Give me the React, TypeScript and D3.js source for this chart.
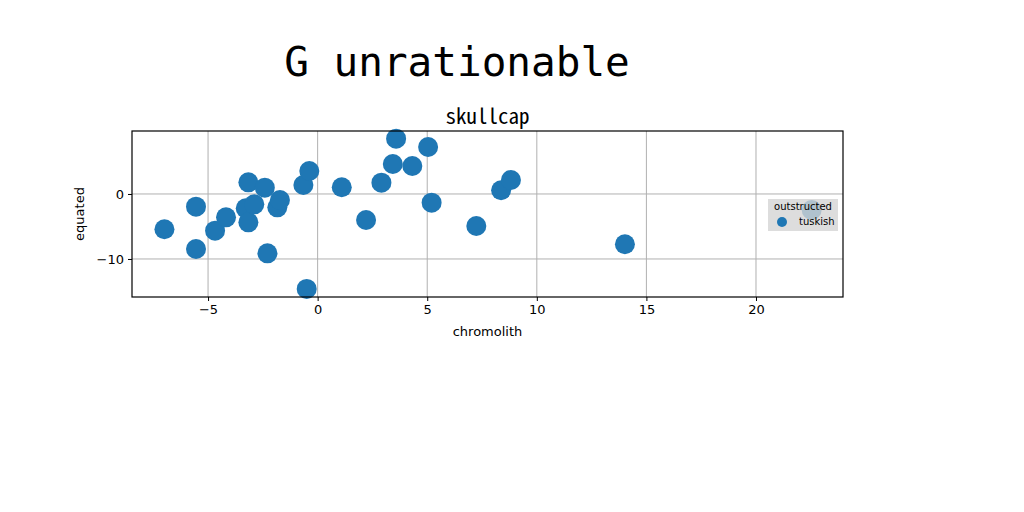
import React, { useRef, useEffect } from 'react';
import * as d3 from 'd3';

// scatter values
const xValues = [
  -6.99, -5.55, -5.55, -4.68, -4.18, -3.16, -3.28, -3.16, -2.89, -2.41,
  -2.29, -1.84, -1.72, -0.65, -0.38, -0.5, 1.1, 2.21, 2.91, 3.43,
  3.58, 4.32, 5.04, 5.2, 7.24, 8.37, 8.82, 14.02, 22.54,
];
const yValues = [
  -5.43, -1.95, -8.46, -5.64, -3.59, 1.79, -2.21, -4.36, -1.59, 0.97,
  -9.13, -2.05, -0.92, 1.38, 3.54, -14.6, 1.03, -4.0, 1.74, 4.62,
  8.51, 4.31, 7.23, -1.34, -4.92, 0.57, 2.15, -7.74, -2.46,
];
const xTicks = [-5, 0, 5, 10, 15, 20];
const yTicks = [-10, 0];
const seriesName = 'tuskish';
const legendTitle = 'outstructed';

const App: React.FC = () => {
  const svgRef = useRef<SVGSVGElement>(null);

  useEffect(() => {
    if (!svgRef.current) return;
    const svg = d3.select(svgRef.current);
    svg.selectAll('*').remove();

    const plot = { left: 132, right: 843, top: 131, bottom: 297 };
    const xScale = d3.scaleLinear().domain([-8.47, 23.97]).range([plot.left, plot.right]);
    const yScale = d3.scaleLinear().domain([-15.85, 9.69]).range([plot.bottom, plot.top]);

    svg.append('rect').attr('width', 1024).attr('height', 512).attr('fill', '#ffffff');

    // main title
    svg.append('text')
      .attr('x', 457)
      .attr('y', 76)
      .attr('text-anchor', 'middle')
      .style('font-family', '"DejaVu Sans Mono", monospace')
      .style('font-size', '41px')
      .style('fill', '#000')
      .text('G unrationable');

    // axes title
    svg.append('text')
      .attr('x', (plot.left + plot.right) / 2)
      .attr('y', 124)
      .attr('text-anchor', 'middle')
      .style('font-family', '"Noto Sans Mono CJK JP", "Noto Sans CJK JP", sans-serif')
      .style('font-size', '21px')
      .style('fill', '#000')
      .text('skullcap');

    // grid
    const grid = svg.append('g');
    grid.selectAll('.gx')
      .data(xTicks)
      .enter().append('line')
      .attr('x1', d => xScale(d)).attr('x2', d => xScale(d))
      .attr('y1', plot.top).attr('y2', plot.bottom)
      .attr('stroke', '#b0b0b0').attr('stroke-width', 1);
    grid.selectAll('.gy')
      .data(yTicks)
      .enter().append('line')
      .attr('y1', d => yScale(d)).attr('y2', d => yScale(d))
      .attr('x1', plot.left).attr('x2', plot.right)
      .attr('stroke', '#b0b0b0').attr('stroke-width', 1);

    // points
    svg.append('g')
      .selectAll('circle')
      .data(xValues.map((x, i) => ({ x, y: yValues[i] })))
      .enter().append('circle')
      .attr('cx', d => xScale(d.x))
      .attr('cy', d => yScale(d.y))
      .attr('r', 10)
      .attr('fill', '#1f77b4');

    // axes
    const xAxis = svg.append('g')
      .attr('transform', `translate(0,${plot.bottom})`)
      .call(d3.axisBottom(xScale).tickValues(xTicks).tickSizeOuter(0).tickSize(4).tickPadding(4)
        .tickFormat(d => d3.format('d')(d as number).replace('-', '\u2212')));
    const yAxis = svg.append('g')
      .attr('transform', `translate(${plot.left},0)`)
      .call(d3.axisLeft(yScale).tickValues(yTicks).tickSizeOuter(0).tickSize(4).tickPadding(4)
        .tickFormat(d => d3.format('d')(d as number).replace('-', '\u2212')));
    [xAxis, yAxis].forEach(a => {
      a.select('.domain').remove();
      a.selectAll('text')
        .style('font-family', '"DejaVu Sans", sans-serif')
        .style('font-size', '13px')
        .style('fill', '#000');
      a.selectAll('line').attr('stroke', '#000');
    });

    // frame
    svg.append('rect')
      .attr('x', plot.left).attr('y', plot.top)
      .attr('width', plot.right - plot.left).attr('height', plot.bottom - plot.top)
      .attr('fill', 'none').attr('stroke', '#000').attr('stroke-width', 1.2);

    // axis labels
    svg.append('text')
      .attr('x', (plot.left + plot.right) / 2)
      .attr('y', 336)
      .attr('text-anchor', 'middle')
      .style('font-family', '"DejaVu Sans", sans-serif')
      .style('font-size', '13px')
      .text('chromolith');
    svg.append('text')
      .attr('transform', `translate(84,${(plot.top + plot.bottom) / 2}) rotate(-90)`)
      .attr('text-anchor', 'middle')
      .style('font-family', '"DejaVu Sans", sans-serif')
      .style('font-size', '13px')
      .text('equated');

    // legend
    const legend = svg.append('g').attr('transform', 'translate(768,199)');
    legend.append('rect')
      .attr('width', 70).attr('height', 32)
      .attr('fill', '#d4d4d4').attr('opacity', 0.8);
    legend.append('text')
      .attr('x', 35).attr('y', 11)
      .attr('text-anchor', 'middle')
      .style('font-family', '"DejaVu Sans", sans-serif')
      .style('font-size', '10px')
      .text(legendTitle);
    legend.append('circle')
      .attr('cx', 14).attr('cy', 23).attr('r', 5)
      .attr('fill', '#1f77b4');
    legend.append('text')
      .attr('x', 31).attr('y', 26)
      .style('font-family', '"DejaVu Sans", sans-serif')
      .style('font-size', '10px')
      .text(seriesName);
  }, []);

  return (
    <div style={{ position: 'absolute', left: 0, top: 0 }}>
      <svg ref={svgRef} width={1024} height={512} style={{ display: 'block' }} />
    </div>
  );
};

export default App;
